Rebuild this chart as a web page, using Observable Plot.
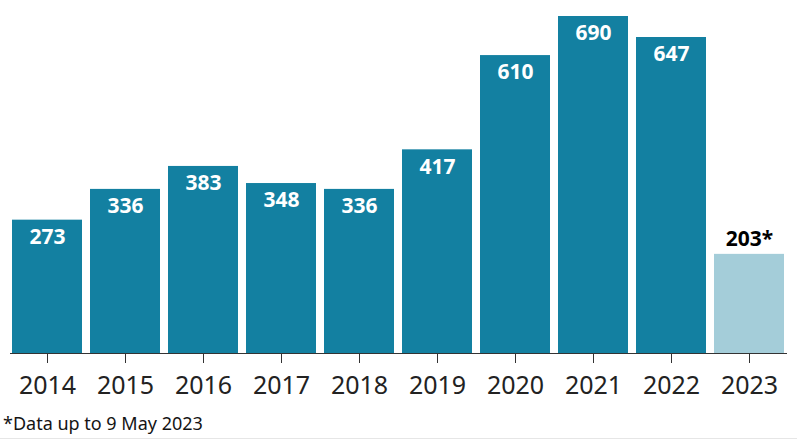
<!DOCTYPE html>
<html><head><meta charset="utf-8">
<script src="https://cdn.jsdelivr.net/npm/d3@7"></script>
<script src="https://cdn.jsdelivr.net/npm/@observablehq/plot@0.6"></script>
<style>
body{margin:0;background:#fff;font-family:"Noto Sans",sans-serif;}
#foot{font-size:18px;color:#141414;margin:8px 0 0 3px;line-height:22px;}
#rule{position:absolute;left:0;top:438px;width:797px;height:1px;background:#e6e6e6;}
</style></head>
<body>
<div id="chart"></div>
<div id="foot">*Data up to 9 May 2023</div>
<div id="rule"></div>
<script>
const years = ["2014","2015","2016","2017","2018","2019","2020","2021","2022","2023"];
const values = [273,336,383,348,336,417,610,690,647,203];
const labels = ["273","336","383","348","336","417","610","690","647","203*"];
const partial = [false,false,false,false,false,false,false,false,false,true];

const data = years.map((y,i)=>({year:y,value:values[i],label:labels[i],partial:partial[i]}));
const full = data.filter(d=>!d.partial);
const part = data.filter(d=>d.partial);

const chart = Plot.plot({
  width: 797, height: 404,
  marginLeft: 10, marginRight: 10, marginTop: 16, marginBottom: 51,
  style: {fontFamily: "Noto Sans, sans-serif", background: "#fff"},
  x: {domain: years, paddingInner: 0.1, paddingOuter: 0, label: null},
  y: {domain: [0, 690], axis: null},
  marks: [
    Plot.barY(data, {x: "year", y: "value", fill: d => d.partial ? "#a4cdd9" : "#1380a1"}),
    Plot.ruleY([0], {stroke: "#333", strokeWidth: 1.2}),
    Plot.axisX({tickSize: 10, tickPadding: 13, fontSize: 25, stroke: "#333", color: "#222"}),
    Plot.text(full, {x: "year", y: "value", text: "label", fill: "#fff", fontSize: 21, fontWeight: "bold", dy: 17}),
    Plot.text(part, {x: "year", y: "value", text: "label", fill: "#000", fontSize: 21, fontWeight: "bold", dy: -15})
  ]
});
document.getElementById("chart").append(chart);
</script>
</body></html>
